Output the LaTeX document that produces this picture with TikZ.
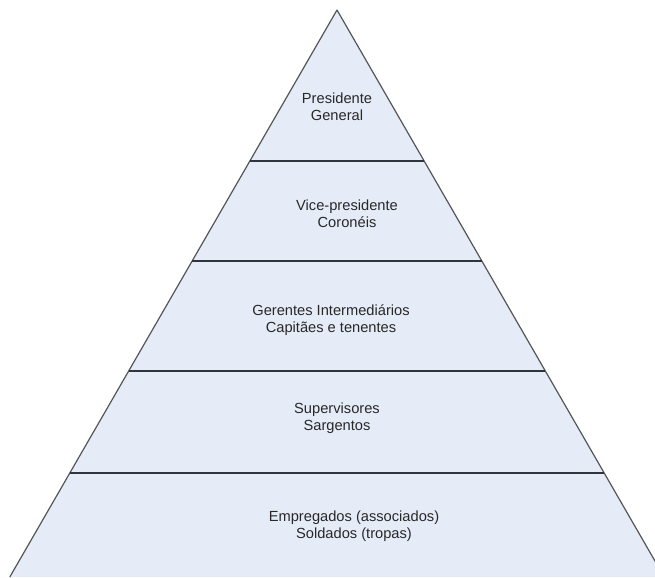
\documentclass[tikz,border=0pt]{standalone}
\usepackage{fontspec}
\setmainfont{Liberation Sans}
\definecolor{levelfill}{RGB}{230,236,247}
\definecolor{edgegray}{RGB}{85,85,85}
\definecolor{rulegray}{RGB}{50,52,60}
\definecolor{textgray}{RGB}{40,40,40}
\begin{document}
\begin{tikzpicture}[x=0.75pt, y=-0.75pt]
\useasboundingbox (0,0) rectangle (655,577);
\clip (0,0) rectangle (655,577);
\coordinate (Apex) at (337, 10);
\coordinate (L1) at (249.9, 161);
\coordinate (R1) at (424.1, 161);
\coordinate (L2) at (192.2, 261);
\coordinate (R2) at (481.8, 261);
\coordinate (L3) at (128.7, 371);
\coordinate (R3) at (545.3, 371);
\coordinate (L4) at (69.8, 473);
\coordinate (R4) at (604.2, 473);
\coordinate (L5) at (9.8, 577);
\coordinate (R5) at (664.2, 577);


\fill[levelfill] (Apex) -- (L5) -- (R5) -- cycle;


\tikzset{SideStyle/.style = {draw=edgegray, line width=0.9pt} }
\tikzset{RuleStyle/.style = {draw=rulegray, line width=0.9pt} }

\draw[SideStyle] (Apex) -- (L5);
\draw[SideStyle] (Apex) -- (R5);
\draw[RuleStyle] (L1) -- (R1);
\draw[RuleStyle] (L2) -- (R2);
\draw[RuleStyle] (L3) -- (R3);
\draw[RuleStyle] (L4) -- (R4);



\tikzset{LevelStyle/.style = {
 text = textgray,
 align = center,
 font = \fontsize{11}{12.8}\selectfont,
 inner sep = 0pt} }

\node[LevelStyle] (T1) at (337, 106.5) {Presidente\\General};
\node[LevelStyle] (T2) at (347, 214) {Vice-presidente\\Coronéis};
\node[LevelStyle] (T3) at (331, 320.5) {Gerentes Intermediários\\Capitães e tenentes};
\node[LevelStyle] (T4) at (337, 418) {Supervisores\\Sargentos};
\node[LevelStyle] (T5) at (354, 526) {Empregados (associados)\\Soldados (tropas)};

\end{tikzpicture}
\end{document}
